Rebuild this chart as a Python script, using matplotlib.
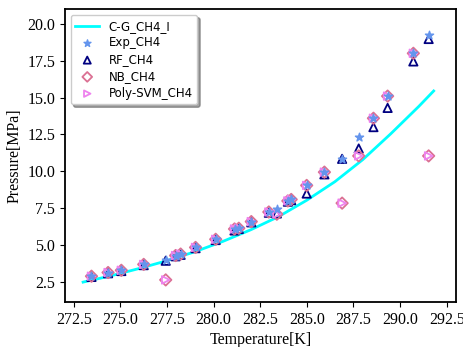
import matplotlib
matplotlib.use('Agg')
import matplotlib.pyplot as plt

# C-G correlation curve
cg_T = [273.0, 274.5, 276.0, 277.5, 279.0, 280.5, 282.0, 283.5, 285.0, 286.5, 288.0, 289.5, 291.0, 291.8]
cg_P = [2.5, 2.93, 3.42, 3.95, 4.56, 5.26, 6.05, 6.95, 8.05, 9.3, 10.8, 12.55, 14.4, 15.45]

# measured temperatures
temp = [273.45, 274.34, 275.05, 276.25, 277.43, 277.96, 278.23, 279.03, 280.11, 281.12, 281.35, 282.02,
        282.96, 283.39, 283.98, 284.16, 284.99, 285.94, 286.89, 287.78, 288.57, 289.33, 290.71, 291.53]

exp_P = [2.9, 3.15, 3.3, 3.7, 4.0, 4.3, 4.4, 4.85, 5.4, 6.1, 6.15, 6.6,
         7.25, 7.45, 8.0, 8.1, 9.05, 9.95, 10.85, 12.35, 13.6, 15.1, 18.0, 19.25]
rf_P = [2.85, 3.1, 3.25, 3.65, 3.95, 4.25, 4.35, 4.8, 5.35, 6.0, 6.1, 6.55,
        7.2, 7.15, 7.95, 8.05, 8.5, 9.8, 10.85, 11.55, 13.0, 14.3, 17.45, 18.97]
nb_P = [2.9, 3.15, 3.3, 3.7, 2.65, 4.3, 4.4, 4.85, 5.4, 6.1, 6.15, 6.6,
        7.25, 7.1, 8.0, 8.1, 9.05, 9.95, 7.85, 11.05, 13.6, 15.1, 18.0, 11.05]
svm_P = [2.9, 3.15, 3.3, 3.7, 2.65, 4.3, 4.4, 4.85, 5.4, 6.1, 6.15, 6.6,
         7.25, 7.1, 8.0, 8.1, 9.05, 9.95, 7.85, 11.05, 13.6, 15.1, 18.0, 11.05]

fig = plt.figure(figsize=(4.63, 3.47), dpi=100)
ax = fig.add_axes([0.140, 0.130, 0.845, 0.844])

ax.plot(cg_T, cg_P, color='cyan', lw=2, label='C-G_CH4_I')
ax.scatter(temp, exp_P, marker='*', s=38, color='cornflowerblue', label='Exp_CH4', zorder=5)
ax.scatter(temp, rf_P, marker='^', s=36, facecolors='none', edgecolors='navy', linewidths=1.3, label='RF_CH4', zorder=3)
ax.scatter(temp, nb_P, marker='D', s=34, facecolors='none', edgecolors='palevioletred', linewidths=1.3, label='NB_CH4', zorder=4)
ax.scatter(temp, svm_P, marker='>', s=30, facecolors='none', edgecolors='violet', linewidths=1.3, label='Poly-SVM_CH4', zorder=4)

ax.set_xlim(272.02, 293.0)
ax.set_ylim(1.16, 21.0)
ax.set_xticks([272.5, 275.0, 277.5, 280.0, 282.5, 285.0, 287.5, 290.0, 292.5])
ax.set_yticks([2.5, 5.0, 7.5, 10.0, 12.5, 15.0, 17.5, 20.0])

for lab in ax.get_xticklabels() + ax.get_yticklabels():
    lab.set_family('Liberation Serif')
    lab.set_fontsize(11.5)
ax.set_xlabel('Temperature[K]', family='Liberation Serif', fontsize=11.5, labelpad=3)
ax.set_ylabel('Pressure[MPa]', family='Liberation Serif', fontsize=11.5, labelpad=3)
for sp in ax.spines.values():
    sp.set_linewidth(1.3)

ax.legend(loc='upper left', fontsize=8.5, shadow=True, borderaxespad=0.5, labelspacing=0.32,
          markerscale=0.85)

fig.savefig('out.png', dpi=100)
